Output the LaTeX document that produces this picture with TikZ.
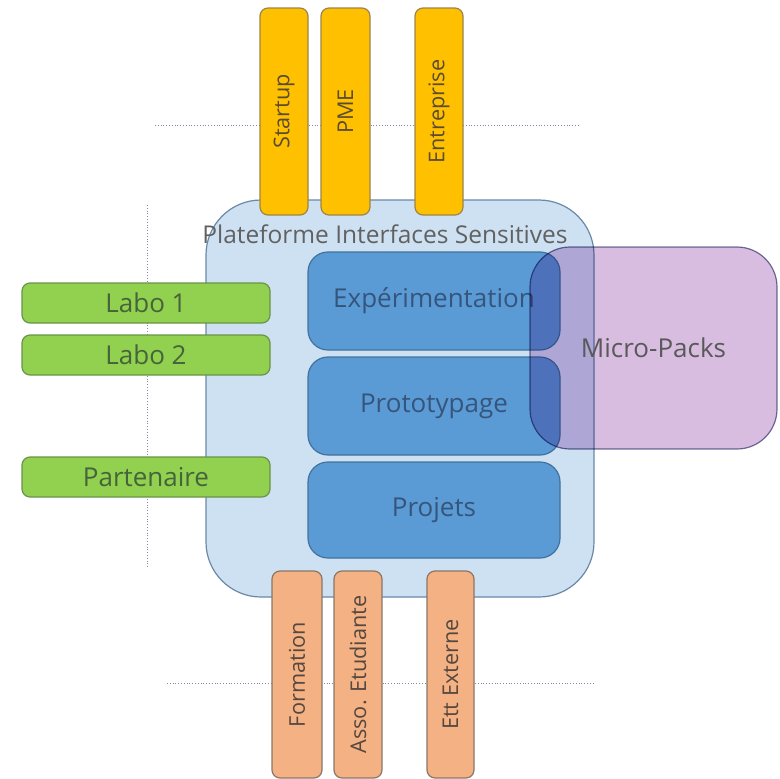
\documentclass[tikz,border=0pt]{standalone}
\usepackage{fontspec}
\setmainfont{Open Sans}
\usetikzlibrary{positioning}

\definecolor{platfill}{HTML}{CEE1F2}
\definecolor{platline}{HTML}{6A88A8}
\definecolor{bluefill}{HTML}{5B9BD5}
\definecolor{blueline}{HTML}{41719C}
\definecolor{bluetext}{HTML}{35557C}
\definecolor{packfill}{HTML}{D8BDE1}
\definecolor{packline}{HTML}{76779E}
\definecolor{yelfill}{HTML}{FFC000}
\definecolor{yelline}{HTML}{9C8548}
\definecolor{yeltext}{HTML}{5A4C30}
\definecolor{grnfill}{HTML}{92D050}
\definecolor{grnline}{HTML}{6A9448}
\definecolor{grntext}{HTML}{46643A}
\definecolor{orgfill}{HTML}{F4B183}
\definecolor{orgline}{HTML}{8A7668}
\definecolor{orgtext}{HTML}{56483E}
\definecolor{guide}{HTML}{7E8AA8}

\tikzset{
  lbl/.style={font=\fontsize{26}{30}\selectfont, inner sep=0pt},
  vlbl/.style={font=\fontsize{21.7}{25}\selectfont, inner sep=0pt},
  platbox/.style={draw=platline, fill=platfill, line width=1.2pt, rounded corners=55pt},
  actbox/.style={draw=blueline, fill=bluefill, line width=1.2pt, rounded corners=20pt,
    text=bluetext, lbl},
  packbox/.style={draw=packline, fill=packfill, line width=1.2pt, rounded corners=40pt},
  yelbox/.style={draw=yelline, fill=yelfill, line width=1.2pt, rounded corners=8pt,
    text=yeltext, vlbl, rotate=90, minimum width=207pt, minimum height=48pt},
  grnbox/.style={draw=grnline, fill=grnfill, line width=1.2pt, rounded corners=8pt,
    text=grntext, lbl, minimum width=248pt, minimum height=40pt},
  orgbox/.style={draw=orgline, fill=orgfill, line width=1.2pt, rounded corners=8pt,
    text=orgtext, vlbl, rotate=90, minimum width=207pt, minimum height=48pt},
  guideline/.style={draw=guide, line width=0.8pt, dotted},
}

\begin{document}
\begin{tikzpicture}[x=1pt, y=-1pt]
  \useasboundingbox (0,0) rectangle (780,779);

  % guide lines behind the partner columns
  \coordinate (gt1) at (155,125);  \coordinate (gt2) at (580,125);
  \coordinate (gl1) at (147,205);  \coordinate (gl2) at (147,568);
  \coordinate (gb1) at (167,683);  \coordinate (gb2) at (595,683);
  \draw[guideline] (gt1) -- (gt2);
  \draw[guideline] (gl1) -- (gl2);
  \draw[guideline] (gb1) -- (gb2);

  % platform
  \node[platbox, minimum width=388pt, minimum height=397pt] (pis) at (400,398.5) {};

  % companies (top)
  \node[yelbox, minimum height=48pt] (startup) at (284,111.5) {Startup};
  \node[yelbox, minimum height=49pt] (pme) at (345.5,111.5) {PME};
  \node[yelbox, minimum height=48pt] (entr) at (439,111.5) {Entreprise};

  % labs (left)
  \node[grnbox] (labo1) at (146,303) {Labo 1};
  \node[grnbox] (labo2) at (146,355) {Labo 2};
  \node[grnbox] (part) at (146,477) {Partenaire};

  % education (bottom)
  \node[orgbox, minimum height=50pt] (form) at (297,674.5) {Formation};
  \node[orgbox, minimum height=48pt] (asso) at (358,674.5) {Asso. Etudiante};
  \node[orgbox, minimum height=47pt] (ett) at (450.5,674.5) {Ett Externe};

  % platform title
  \node[font=\fontsize{24.5}{28}\selectfont, inner sep=0pt, text=black!62] (title) at (385,234)
    {Plateforme Interfaces Sensitives};

  % activities
  \node[actbox, minimum width=252pt, minimum height=98pt] (exp) at (434,301) {Expérimentation};
  \node[actbox, minimum width=252pt, minimum height=98pt] (proto) at (434,406) {Prototypage};
  \node[actbox, minimum width=252pt, minimum height=96pt] (proj) at (434,510) {Projets};

  % micro-packs, blended over the platform
  \begin{scope}[blend mode=multiply]
    \node[packbox, minimum width=247pt, minimum height=202pt] (packs) at (653.5,348) {};
  \end{scope}
  \node[lbl, text=black!65] at (packs.center) {Micro-Packs};
\end{tikzpicture}
\end{document}
